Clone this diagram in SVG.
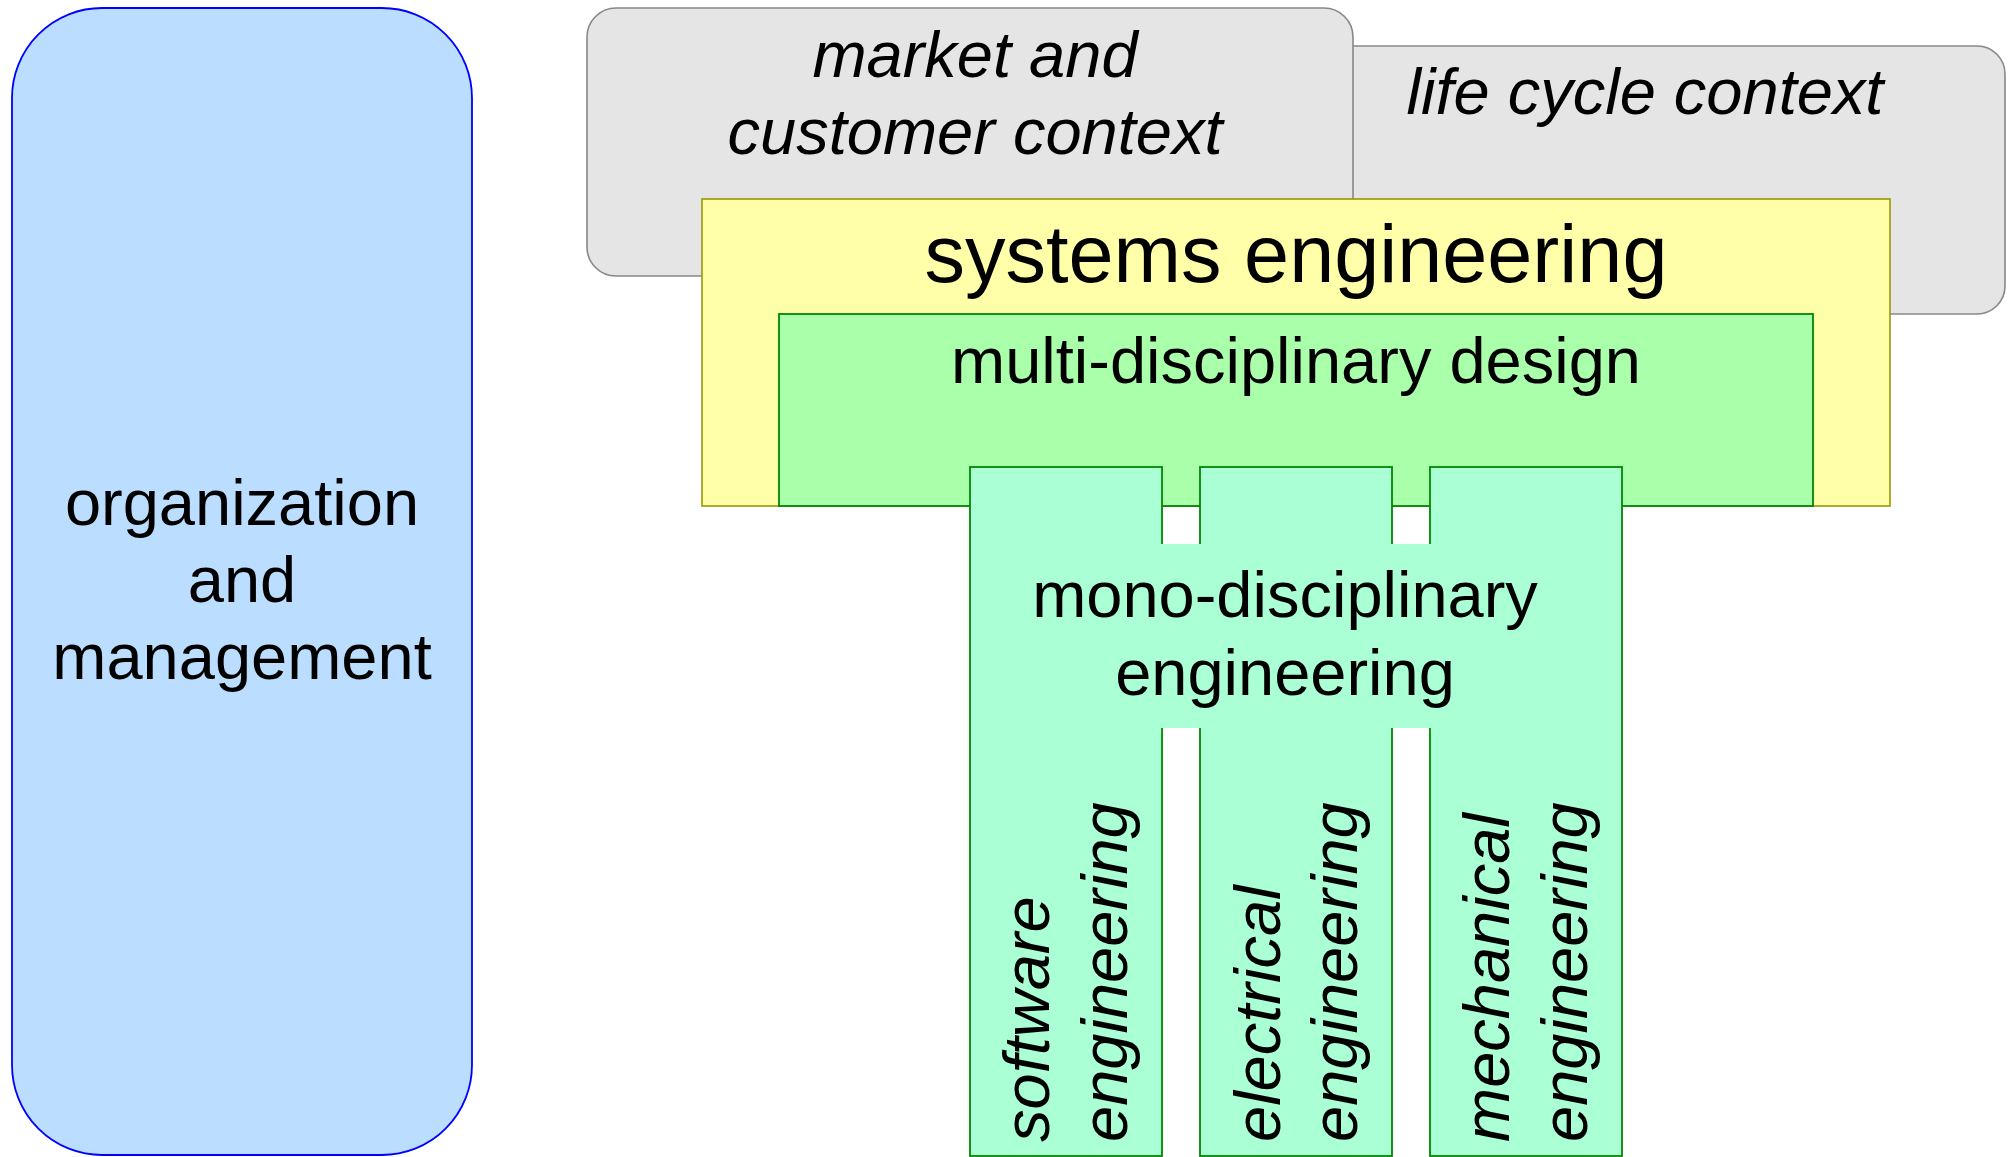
<svg xmlns="http://www.w3.org/2000/svg" width="2015" height="1157" viewBox="0 0 2015 1157">
<style>
text{font-family:"Liberation Sans",Arial,sans-serif;font-size:65px;fill:#000}
.c{text-anchor:middle}
.i{font-style:italic}
.ctx{fill:#e5e5e5;stroke:#888;stroke-width:1.6}
.col{fill:#aaffd4;stroke:#008800;stroke-width:1.8}
</style>
<rect width="2015" height="1157" fill="#fff"/>
<g id="organization">
<rect x="12" y="8" width="460" height="1147" rx="90" ry="90" fill="#bbddff" stroke="#0000ff" stroke-width="1.8"/>
<text class="c" x="242" y="525">organization</text>
<text class="c" x="242" y="602">and</text>
<text class="c" x="242" y="679">management</text>
</g>
<g id="lifecycle">
<rect class="ctx" x="1285" y="46" width="720" height="268" rx="28" ry="28"/>
<text class="c i" x="1645" y="114">life cycle context</text>
</g>
<g id="market">
<rect class="ctx" x="587" y="8" width="766" height="268" rx="29" ry="29"/>
<text class="c i" x="975" y="77">market and</text>
<text class="c i" x="975" y="154">customer context</text>
</g>
<g id="systems">
<rect x="702" y="199" width="1188" height="307" fill="#ffffaa" stroke="#999900" stroke-width="1.6"/>
<text class="c" x="1296" y="282" style="font-size:81px">systems engineering</text>
</g>
<g id="multi">
<rect x="779" y="314" width="1034" height="192" fill="#aaffaa" stroke="#008800" stroke-width="1.8"/>
<text class="c" x="1296" y="383">multi-disciplinary design</text>
</g>
<g id="mono">
<rect class="col" x="970" y="467" width="192" height="689"/>
<rect class="col" x="1200" y="467" width="192" height="689"/>
<rect class="col" x="1430" y="467" width="192" height="689"/>
<rect x="1161" y="544" width="270" height="184" fill="#aaffd4"/>
<text class="c" x="1285" y="617">mono-disciplinary</text>
<text class="c" x="1285" y="695">engineering</text>
</g>
<g id="software">
<text class="i" transform="translate(1049,1142) rotate(-90)">software</text>
<text class="i" transform="translate(1127,1142) rotate(-90)">engineering</text>
</g>
<g id="electrical">
<text class="i" transform="translate(1280,1142) rotate(-90)">electrical</text>
<text class="i" transform="translate(1357,1142) rotate(-90)">engineering</text>
</g>
<g id="mechanical">
<text class="i" transform="translate(1509,1142) rotate(-90)">mechanical</text>
<text class="i" transform="translate(1587,1142) rotate(-90)">engineering</text>
</g>
<g id="connectors"></g>
</svg>
